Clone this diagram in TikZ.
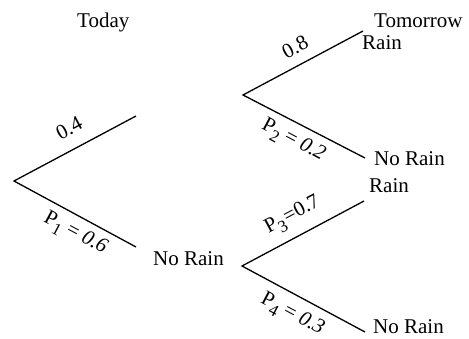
\documentclass[tikz,border=0pt]{standalone}
\usepackage{fontspec}
\setmainfont{Liberation Serif}
\newcommand\mysubP[1]{P\raisebox{-6pt}{\fontsize{17}{17}\selectfont #1}}
\begin{document}
\begin{tikzpicture}[x=1pt,y=-1pt,
  branch/.style={line width=1.3pt},
  txt/.style={inner sep=0pt,anchor=base west,font=\fontsize{21}{25}\selectfont},
  lbl/.style={inner sep=0pt,anchor=center,font=\fontsize{21}{25}\selectfont}]
\useasboundingbox (0,0) rectangle (469,338);
\coordinate (r) at (14,181);
\coordinate (u1) at (136,116);
\coordinate (d1) at (136,247);
\coordinate (A) at (243,95);
\coordinate (A1) at (363,31);
\coordinate (A2) at (365,158);
\coordinate (B) at (242,266);
\coordinate (B1) at (364,201);
\coordinate (B2) at (365,332);
\draw[branch] (u1) -- (r) -- (d1);
\draw[branch] (A1) -- (A) -- (A2);
\draw[branch] (B1) -- (B) -- (B2);
\node[txt] (today) at (77,27) {Today};
\node[txt] (tomorrow) at (374,27) {Tomorrow};
\node[txt] (rain1) at (362,49) {Rain};
\node[txt] (norain1) at (374,165) {No Rain};
\node[txt] (norain0) at (153,265) {No Rain};
\node[txt] (rain2) at (369,192) {Rain};
\node[txt] (norain2) at (373,333) {No Rain};
\node[lbl,rotate=28] (l04) at (69,128) {0.4};
\node[lbl,rotate=-28] (lp1) at (75,234) {\mysubP{1} = \textit{0.6}};
\node[lbl,rotate=28] (l08) at (295,47) {0.8};
\node[lbl,rotate=-28] (lp2) at (293,141) {\mysubP{2} = \textit{0.2}};
\node[lbl,rotate=28] (lp3) at (293,216) {\mysubP{3}\kern1pt=0.7};
\node[lbl,rotate=-28] (lp4) at (292,315) {\mysubP{4} = \textit{0.3}};
\end{tikzpicture}
\end{document}
